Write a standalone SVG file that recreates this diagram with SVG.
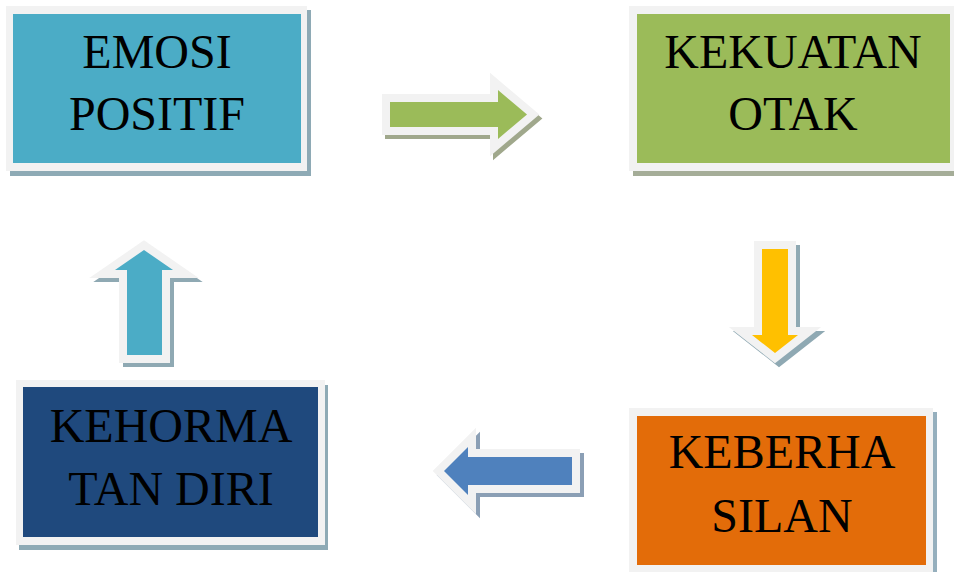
<svg xmlns="http://www.w3.org/2000/svg" width="954" height="572" viewBox="0 0 954 572">
<style>
.frame{fill:#f2f2f2}
.lbl{font-family:"Liberation Serif","Times New Roman",serif;font-size:48px;fill:#000;text-anchor:middle}
.arr{stroke:#f2f2f2;stroke-width:16;stroke-linejoin:miter;stroke-miterlimit:10;paint-order:stroke}
.ash{stroke-width:16;stroke-linejoin:miter;stroke-miterlimit:10;paint-order:stroke}
</style>
<rect width="954" height="572" fill="#ffffff"/>
<g id="connectors">
  <g id="arrow-right">
    <polygon class="ash" transform="translate(3,4)" fill="#a0a88c" stroke="#a0a88c" points="390,102 498,102 498,90 527,114.5 498,139 498,127 390,127"/>
    <polygon class="arr" fill="#9bbb59" points="390,102 498,102 498,90 527,114.5 498,139 498,127 390,127"/>
  </g>
  <g id="arrow-down">
    <polygon class="ash" transform="translate(4,4)" fill="#8fa9b3" stroke="#8fa9b3" points="762,249 788,249 788,335 798,335 775,353 752,335 762,335"/>
    <polygon class="arr" fill="#ffc000" points="762,249 788,249 788,335 798,335 775,353 752,335 762,335"/>
  </g>
  <g id="arrow-left">
    <polygon class="ash" transform="translate(4,4)" fill="#8b9fb5" stroke="#8b9fb5" points="572,457 572,485 468,485 468,495 444,471 468,447 468,457"/>
    <polygon class="arr" fill="#4f81bd" points="572,457 572,485 468,485 468,495 444,471 468,447 468,457"/>
  </g>
  <g id="arrow-up">
    <polygon class="ash" transform="translate(4,4)" fill="#8fa9b3" stroke="#8fa9b3" points="127,355 127,270 115,270 144,250 173,270 162,270 162,355"/>
    <polygon class="arr" fill="#4bacc6" points="127,355 127,270 115,270 144,250 173,270 162,270 162,355"/>
  </g>
</g>
<g id="node-emosi">
  <rect x="10" y="10" width="301" height="166" fill="#8eaab5"/>
  <rect class="frame" x="6" y="6" width="301" height="165"/>
  <rect x="13" y="14" width="288" height="149" fill="#4bacc6"/>
  <text class="lbl" x="157" y="68">EMOSI</text>
  <text class="lbl" x="157" y="130">POSITIF</text>
</g>
<g id="node-kekuatan">
  <rect x="633" y="10" width="328" height="166" fill="#a5ad98"/>
  <rect class="frame" x="629" y="6" width="328" height="165"/>
  <rect x="637" y="14" width="313" height="149" fill="#9bbb59"/>
  <text class="lbl" x="793" y="68">KEKUATAN</text>
  <text class="lbl" x="793" y="130">OTAK</text>
</g>
<g id="node-keberhasilan">
  <rect x="633" y="412" width="304" height="170" fill="#95afbd"/>
  <rect class="frame" x="629" y="408" width="304" height="170"/>
  <rect x="637" y="416" width="289" height="149" fill="#e36c09"/>
  <text class="lbl" x="782" y="468">KEBERHA</text>
  <text class="lbl" x="782" y="532">SILAN</text>
</g>
<g id="node-kehormatan">
  <rect x="19" y="385" width="309" height="165" fill="#8eaab5"/>
  <rect class="frame" x="16" y="380" width="309" height="165"/>
  <rect x="23" y="387" width="295" height="150" fill="#1f497d"/>
  <text class="lbl" x="171" y="442">KEHORMA</text>
  <text class="lbl" x="171" y="505">TAN DIRI</text>
</g>
</svg>
